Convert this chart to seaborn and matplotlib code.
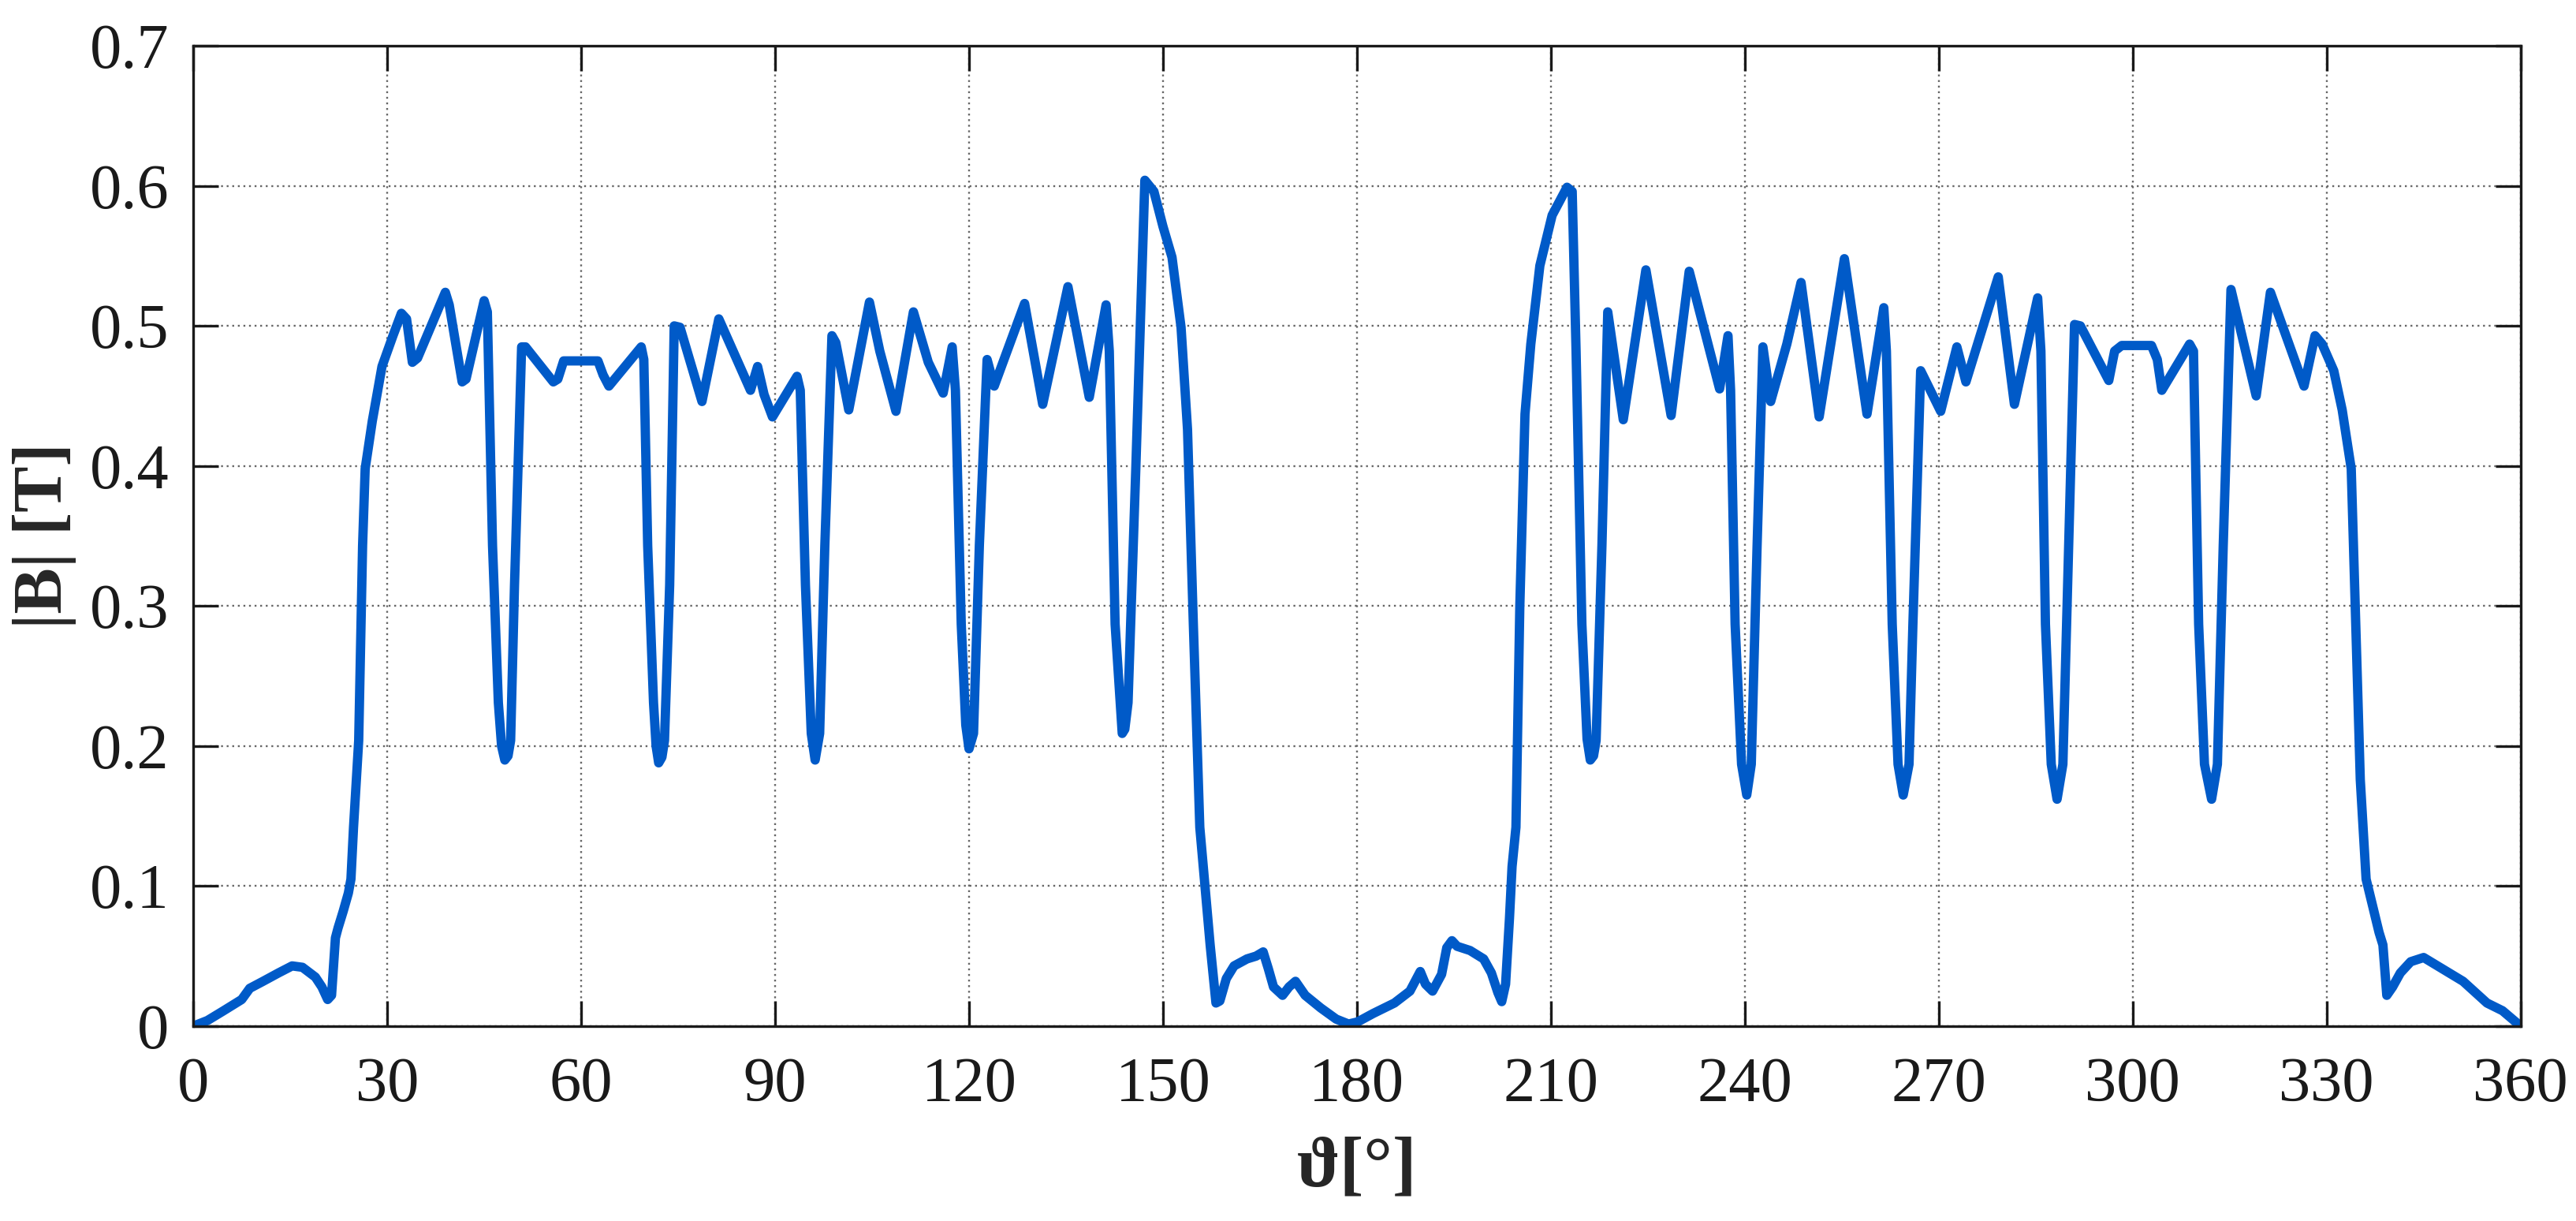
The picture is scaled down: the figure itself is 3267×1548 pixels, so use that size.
import numpy as np
import pandas as pd
import seaborn as sns
import matplotlib.pyplot as plt

# |B| along the air gap
theta = [0, 2.2, 4.7, 7.5, 8.75, 10.8, 13.2, 15.3, 16.9, 18.9, 19.9, 20.8, 21.4, 22.0,
         22.4, 23.2, 24.0, 24.4, 24.8, 25.6, 26.2, 26.6,
         27.7, 29.2, 30.9, 32.2, 33.0, 33.9, 34.7, 39.0, 39.6, 41.6, 42.2, 45.0, 45.5,
         46.3, 47.2, 47.7, 48.2, 48.7, 49.1, 49.7, 50.8, 51.4, 55.7, 56.4, 57.3, 62.6,
         63.4, 64.3, 69.3, 69.7, 70.3, 71.2, 71.6, 72.0, 72.5, 72.9, 73.7, 74.4, 75.3,
         78.7, 81.3, 86.2, 87.3, 88.3, 89.6, 93.4, 93.9, 94.7, 95.6, 96.2, 96.9, 97.7,
         98.8, 99.4, 101.4, 104.6, 106.2, 108.7, 111.4, 113.7, 116.0, 117.4, 117.9,
         118.8, 119.5, 120.0, 120.7, 121.6, 122.8, 123.9, 128.6, 131.4, 135.3, 138.6,
         141.2, 141.7, 142.6, 143.7, 144.1, 144.6, 145.8, 147.2, 148.6, 150.0, 151.4,
         152.8, 153.8, 154.7, 155.7, 156.5, 157.3,
         158.2, 158.8, 159.8, 161.0, 163.0, 164.4, 165.5, 166.3, 167.1, 168.5, 169.5,
         170.5, 172.0, 174.4, 176.8, 178.7, 180.1, 182.5, 185.8, 188.2, 189.8, 190.6,
         191.7, 193.1, 193.9, 194.7, 195.5, 197.5, 199.6, 200.8, 201.8, 202.4, 203.0,
         203.6, 204.0, 204.6,
         205.2, 206.0, 206.9, 208.3, 210.2, 212.5, 213.3, 213.9, 214.8, 215.6, 216.1,
         216.6, 217.0, 217.9, 218.8, 221.2, 224.7, 228.6, 231.4, 236.1, 237.4, 237.8,
         238.5, 239.5, 240.3, 241.0, 241.9, 242.8, 244.0, 246.5, 248.7, 251.5, 255.4,
         258.9, 261.5, 261.9, 262.8, 263.7, 264.5, 265.4, 266.0, 267.2, 270.3, 272.8,
         274.2, 279.2, 281.7, 285.3, 285.8, 286.5, 287.4, 288.3, 289.2, 290.1, 291.0,
         291.9, 296.3, 297.2, 298.3, 302.9, 303.8, 304.5, 308.8, 309.4, 310.2, 311.1,
         312.2, 313.1, 314.0, 315.2, 319.1, 321.3, 326.5, 328.2, 329.3, 331.1, 332.4,
         333.8, 334.5, 335.2, 336.1, 338.1, 338.7, 339.3, 340.2, 341.4, 343.0, 345.0,
         351.1, 354.8, 357.2, 360]
b_mag = [0.000, 0.004, 0.011, 0.019, 0.027, 0.032, 0.038, 0.043, 0.042, 0.035, 0.028,
         0.019, 0.022, 0.063, 0.070, 0.082, 0.095, 0.105, 0.142, 0.204, 0.343, 0.398,
         0.432, 0.471, 0.493, 0.509, 0.505, 0.474, 0.477, 0.524, 0.515, 0.460, 0.462,
         0.518, 0.510, 0.343, 0.231, 0.200, 0.190, 0.193, 0.204, 0.315, 0.485, 0.485,
         0.460, 0.462, 0.475, 0.475, 0.465, 0.457, 0.485, 0.476, 0.343, 0.231, 0.200,
         0.188, 0.192, 0.204, 0.315, 0.500, 0.499, 0.446, 0.505, 0.454, 0.471, 0.451,
         0.435, 0.464, 0.454, 0.315, 0.209, 0.190, 0.209, 0.343, 0.493, 0.488, 0.440,
         0.517, 0.482, 0.439, 0.510, 0.474, 0.452, 0.485, 0.454, 0.287, 0.215, 0.198,
         0.209, 0.343, 0.476, 0.457, 0.516, 0.444, 0.528, 0.449, 0.515, 0.482, 0.287,
         0.209, 0.212, 0.231, 0.398, 0.604, 0.596, 0.571, 0.549, 0.499, 0.426, 0.287,
         0.142, 0.100, 0.058,
         0.0165, 0.018, 0.034, 0.043, 0.048, 0.050, 0.053, 0.041, 0.028, 0.022, 0.028,
         0.032, 0.022, 0.013, 0.005, 0.0015, 0.003, 0.009, 0.0165, 0.025, 0.039, 0.030,
         0.025, 0.037, 0.056, 0.061, 0.057, 0.054, 0.048, 0.038, 0.024, 0.0175, 0.030,
         0.077, 0.114, 0.142,
         0.300, 0.437, 0.487, 0.543, 0.579, 0.599, 0.596, 0.482, 0.287, 0.205, 0.190,
         0.193, 0.204, 0.343, 0.510, 0.433, 0.540, 0.436, 0.539, 0.455, 0.493, 0.454,
         0.287, 0.187, 0.165, 0.187, 0.343, 0.485, 0.446, 0.487, 0.531, 0.435, 0.548,
         0.437, 0.513, 0.482, 0.287, 0.187, 0.165, 0.187, 0.287, 0.468, 0.439, 0.485,
         0.460, 0.535, 0.444, 0.520, 0.482, 0.287, 0.187, 0.162, 0.187, 0.343, 0.501,
         0.500, 0.461, 0.482, 0.486, 0.486, 0.476, 0.454, 0.487, 0.482, 0.287, 0.187,
         0.162, 0.187, 0.343, 0.526, 0.450, 0.524, 0.457, 0.493, 0.487, 0.468, 0.440,
         0.398, 0.287, 0.176, 0.105, 0.067, 0.058, 0.022, 0.028, 0.038, 0.046, 0.049,
         0.032, 0.0165, 0.011, 0.000]

x_ticks = list(range(0, 361, 30))
y_ticks = [0, 0.1, 0.2, 0.3, 0.4, 0.5, 0.6, 0.7]
y_tick_labels = ['0', '0.1', '0.2', '0.3', '0.4', '0.5', '0.6', '0.7']

df = pd.DataFrame({'theta': theta, 'B': b_mag})

sns.set_style('ticks')
plt.rcParams['font.family'] = ['Liberation Serif', 'DejaVu Serif']

fig = plt.figure(figsize=(32.67, 15.48), dpi=100)
ax = fig.add_axes([0.075, 0.1596, 0.9035, 0.8029])

sns.lineplot(data=df, x='theta', y='B', ax=ax, color='#005ac8', linewidth=8.5,
             sort=False, estimator=None)
ax.lines[0].set_solid_joinstyle('round')
ax.lines[0].set_solid_capstyle('round')

ax.set_xlim(0, 360)
ax.set_ylim(0, 0.7)
ax.set_xticks(x_ticks)
ax.set_yticks(y_ticks)
ax.set_yticklabels(y_tick_labels)
ax.grid(True, linestyle=(0, (1, 2)), color='#666666', linewidth=1.7)
ax.tick_params(direction='in', length=23, width=2.4, top=True, right=True,
               labelsize=58, colors='#1a1a1a')
ax.tick_params(axis='y', pad=22)
ax.tick_params(axis='x', pad=28)
for sp in ax.spines.values():
    sp.set_linewidth(2.4)
    sp.set_color('#1a1a1a')
    sp.set_visible(True)

ax.set_xlabel('ϑ[°]', fontsize=66, fontweight='bold', labelpad=20)
ax.set_ylabel('|B| [T]', fontsize=63, fontweight='bold', labelpad=12)

fig.savefig('out.png', dpi=100)
